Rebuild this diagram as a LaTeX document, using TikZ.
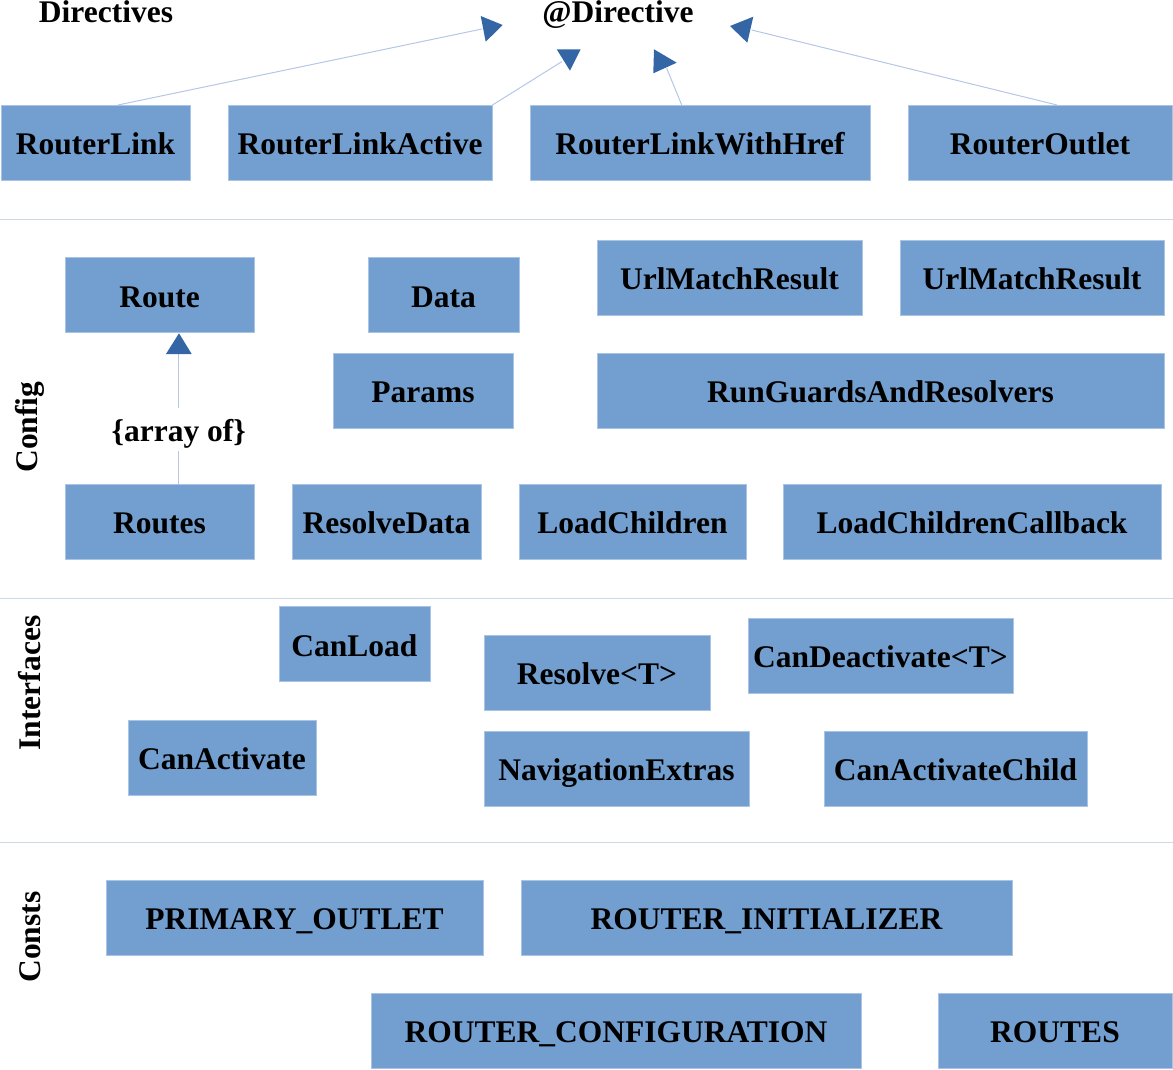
\documentclass[tikz,border=0pt]{standalone}
\usepackage{fontspec}
\setmainfont{Liberation Serif}
\usetikzlibrary{calc,positioning}
\definecolor{BoxBlue}{HTML}{729FCF}
\definecolor{BoxEdge}{HTML}{A9C4E4}
\definecolor{TipBlue}{HTML}{3465A4}
\definecolor{LinkBlue}{HTML}{B4C7E7}
\definecolor{RuleGray}{HTML}{CFD8E6}
\tikzset{
  cls/.style={fill=BoxBlue, draw=BoxEdge, line width=1pt, minimum height=75pt,
    inner sep=0pt, text height=31.5pt, text depth=7.5pt,
    font=\bfseries\fontsize{31.5}{36}\selectfont},
  lbl/.style={inner sep=0pt, font=\bfseries\fontsize{31.5}{36}\selectfont},
  sect/.style={lbl, rotate=90},
  link/.style={draw=LinkBlue, line width=1pt},
  tip/.style={fill=TipBlue},
  rule/.style={draw=RuleGray, line width=1pt}
}

\begin{document}
\begin{tikzpicture}[x=1pt,y=-1pt]
      \useasboundingbox (0,0) rectangle (1173,1070);
      \draw[rule] (0,219) -- (1173,219);
      \draw[rule] (0,598) -- (1173,598);
      \draw[rule] (0,842) -- (1173,842);

      \node[lbl, anchor=base] (directives) at (106,23) {Directives};
      \node[lbl, anchor=base] (directive) at (618,23) {@Directive};
      \node[sect] (config) at (30,427) {Config};
      \node[sect] (interfaces) at (30,683) {Interfaces};
      \node[sect] (consts) at (30,937) {Consts};

      \node[cls, minimum width=189pt] (routerlink) at (95.5,143) {RouterLink};
      \node[cls, minimum width=264pt] (routerlinkactive) at (360,143) {RouterLinkActive};
      \node[cls, minimum width=340pt] (routerlinkwithhref) at (700,143) {RouterLinkWithHref};
      \node[cls, minimum width=264pt] (routeroutlet) at (1040,143) {RouterOutlet};

      \node[cls, minimum width=189pt] (route) at (159.5,295) {Route};
      \node[cls, minimum width=151pt] (data) at (443.5,295) {Data};
      \node[cls, minimum width=265pt] (urlmatchA) at (729.5,277.5) {UrlMatchResult};
      \node[cls, minimum width=264pt] (urlmatchB) at (1032,277.5) {UrlMatchResult};
      \node[cls, minimum width=180pt] (params) at (423,390.5) {Params};
      \node[cls, minimum width=567pt] (runguards) at (880.5,390.5) {RunGuardsAndResolvers};
      \node[cls, minimum width=189pt] (routes) at (159.5,521.5) {Routes};
      \node[cls, minimum width=189pt] (resolvedata) at (386.5,521.5) {ResolveData};
      \node[cls, minimum width=227pt] (loadchildren) at (632.5,521.5) {LoadChildren};
      \node[cls, minimum width=378pt] (loadcallback) at (972,521.5) {LoadChildrenCallback};

      \node[cls, minimum width=151pt] (canload) at (354.5,644) {CanLoad};
      \node[cls, minimum width=226pt] (resolve) at (597,672.5) {Resolve<T>};
      \node[cls, minimum width=265pt] (candeactivate) at (880.5,655.5) {CanDeactivate<T>};
      \node[cls, minimum width=188pt] (canactivate) at (222,757.5) {CanActivate};
      \node[cls, minimum width=265pt] (navextras) at (616.5,768.5) {NavigationExtras};
      \node[cls, minimum width=263pt] (canactivatechild) at (955.5,768.5) {CanActivateChild};

      \node[cls, minimum width=377pt] (primaryoutlet) at (294.5,917.5) {PRIMARY\_OUTLET};
      \node[cls, minimum width=491pt] (routerinit) at (766.5,917.5) {ROUTER\_INITIALIZER};
      \node[cls, minimum width=490pt] (routerconfig) at (616,1030.5) {ROUTER\_CONFIGURATION};
      \node[cls, minimum width=234pt] (routesconst) at (1055,1030.5) {ROUTES};

      \coordinate (endA) at (482,29);
      \coordinate (endB) at (561.7,61.7);
      \coordinate (endC) at (666.7,68.3);
      \coordinate (endD) at (751.7,30);
      \coordinate (endE) at (178.7,354);

      \draw[link] ([xshift=22.5pt]routerlink.north) -- (endA);
      \draw[link] (routerlinkactive.north east) -- (endB);
      \draw[link] ([xshift=-18.3pt]routerlinkwithhref.north) -- (endC);
      \draw[link] ([xshift=17pt]routeroutlet.north) -- (endD);
      \draw[link] ([xshift=19.2pt]routes.north) -- node[lbl, pos=0.42, fill=white, inner ysep=2pt,
        text height=31.5pt, text depth=7.5pt] (arrayof) {\{array of\}} (endE);

      \fill[tip] (480.7,16) -- (502.7,25) -- (485.7,41.7) -- cycle;
      \fill[tip] (556.7,49.3) -- (580.7,49.3) -- (570,70.7) -- cycle;
      \fill[tip] (654,49.3) -- (676.7,62.7) -- (653.3,73.3) -- cycle;
      \fill[tip] (730,26) -- (753.3,16.7) -- (747.3,42.7) -- cycle;
      \fill[tip] (166,354) -- (179,333.3) -- (191.7,354) -- cycle;
    \end{tikzpicture}
\end{document}
